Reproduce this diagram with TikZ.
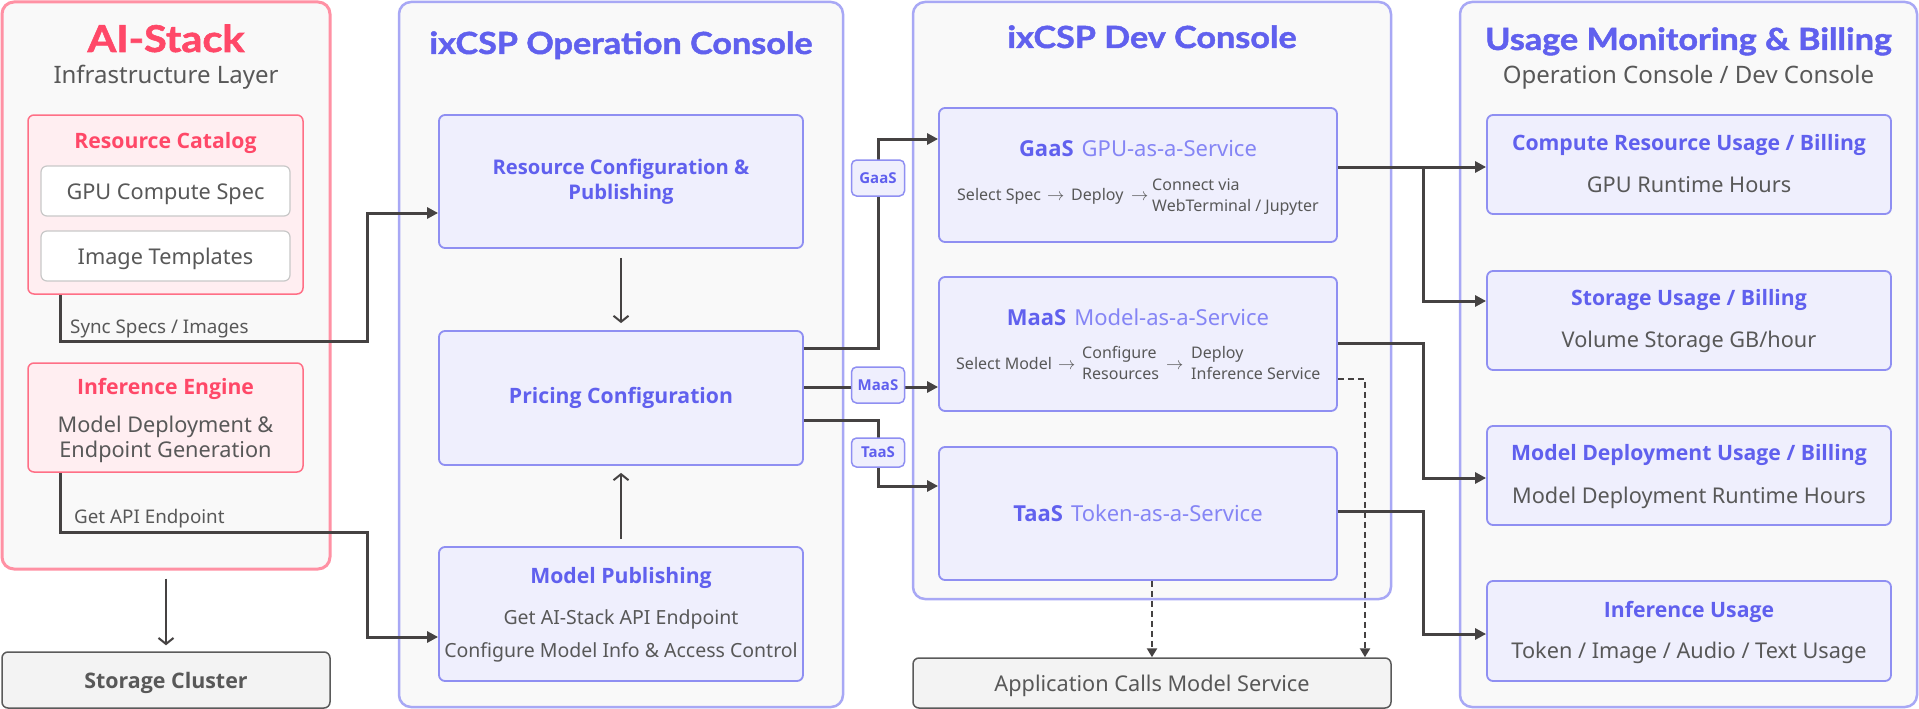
\documentclass[tikz,border=0pt]{standalone}
\usepackage{fontspec}
\setmainfont{Noto Sans}
\newfontfamily\bff{Open Sans}
\newfontfamily\tfont{Lato}[FakeStretch=1.12, BoldFeatures={FakeBold=1.5}]
\usetikzlibrary{arrows.meta}
\definecolor{pinkT}{HTML}{FF4868}
\definecolor{pinkBd}{HTML}{FF91A4}
\definecolor{pinkIn}{HTML}{FF6F86}
\definecolor{pinkFill}{HTML}{FFEEF1}
\definecolor{purT}{HTML}{6060EE}
\definecolor{purL}{HTML}{8585F5}
\definecolor{boxFill}{HTML}{EFEFFD}
\definecolor{boxBd}{HTML}{8F8FF2}
\definecolor{contBd}{HTML}{A8A8F5}
\definecolor{contFill}{HTML}{F9F9F9}
\definecolor{grayT}{HTML}{585858}
\definecolor{lineC}{HTML}{454242}
\definecolor{clusterFill}{HTML}{F3F3F3}
\definecolor{clusterBd}{HTML}{5A5A5A}
\definecolor{specBd}{HTML}{C8C8C8}
\newcommand\fsz[2]{\fontsize{#1}{#2}\selectfont}
\newcommand\sbf{\bff\bfseries}
\begin{document}
\begin{tikzpicture}[x=1pt,y=-1pt,
  cont/.style={draw=contBd, fill=contFill, line width=2.5pt, rounded corners=12pt, inner sep=0pt},
  pinkcont/.style={draw=pinkBd, fill=contFill, line width=3pt, rounded corners=12pt, inner sep=0pt},
  pinkbox/.style={draw=pinkIn, fill=pinkFill, line width=1.5pt, rounded corners=6pt, inner sep=0pt},
  specbox/.style={draw=specBd, fill=white, line width=1.2pt, rounded corners=6pt, inner sep=0pt},
  pbox/.style={draw=boxBd, fill=boxFill, line width=1.8pt, rounded corners=6pt, inner sep=0pt},
  gbox/.style={draw=clusterBd, fill=clusterFill, line width=1.5pt, rounded corners=6pt, inner sep=0pt},
  pill/.style={draw=boxBd, fill=boxFill, line width=1.5pt, rounded corners=5pt, inner sep=0pt, minimum width=53pt, text=purT, font=\fsz{15}{18}\sbf},
  txt/.style={anchor=base, inner sep=0pt},
  ttl/.style={txt, text=purT, font=\tfont\fsz{30.5}{36}\bfseries},
  btitle/.style={txt, text=purT, font=\fsz{21.2}{25}\sbf},
  body/.style={txt, text=grayT, font=\fsz{21.7}{26}},
  small/.style={txt, anchor=base west, text=grayT, font=\fsz{16}{19}},
  conn/.style={draw=lineC, line width=3pt, -{Triangle[length=11pt,width=11pt]}},
  thinarr/.style={draw=lineC, line width=2pt, -{Straight Barb[length=6pt,width=15pt,line width=2pt]}},
  dasharr/.style={draw=lineC, line width=2.5pt, dash pattern=on 6pt off 4pt, -{Triangle[length=9pt,width=10pt]}}
]
\useasboundingbox (0,0) rectangle (1919,709);
\fill[white] (0,0) rectangle (1919,709);

% ---------- containers ----------
\node[pinkcont, minimum width=328pt, minimum height=567pt] (aistack) at (166,285.5) {};
\node[cont, minimum width=444pt, minimum height=705pt] (opc) at (621,354.5) {};
\node[cont, minimum width=478pt, minimum height=597pt] (devc) at (1152,300.5) {};
\node[cont, minimum width=457pt, minimum height=705pt] (usage) at (1688.5,354.5) {};

% ---------- AI-Stack ----------
\node[txt, text=pinkT, font=\tfont\fsz{37}{42}\bfseries] (tai) at (166,52) {AI-Stack};
\node[txt, text=grayT, font=\fsz{24}{28}] (tinfra) at (166,84) {Infrastructure Layer};
\node[pinkbox, minimum width=275pt, minimum height=179pt] (rc) at (165.5,204.5) {};
\node[txt, text=pinkT, font=\fsz{21.2}{25}\sbf] (trc) at (165.5,148) {Resource Catalog};
\node[specbox, minimum width=249pt, minimum height=50pt] (gpu) at (165.5,191) {};
\node[body] (tgpu) at (165.5,199) {GPU Compute Spec};
\node[specbox, minimum width=249pt, minimum height=50pt] (img) at (165.5,256) {};
\node[body] (timg) at (165.5,264) {Image Templates};
\node[pinkbox, minimum width=275pt, minimum height=109pt] (ie) at (165.5,417.5) {};
\node[txt, text=pinkT, font=\fsz{21.2}{25}\sbf] (tie) at (165.5,394) {Inference Engine};
\node[body] (tie1) at (165.5,432) {Model Deployment \&};
\node[body] (tie2) at (165.5,457) {Endpoint Generation};
\node[gbox, minimum width=328pt, minimum height=56pt] (sc) at (166,680) {};
\node[txt, text=grayT, font=\fsz{21.4}{25}\sbf] (tsc) at (166,688) {Storage Cluster};

% ---------- Operation Console ----------
\node[ttl] (top) at (621,54) {ixCSP Operation Console};
\node[pbox, minimum width=364pt, minimum height=133pt] (rescfg) at (621,181.5) {};
\node[txt, text=purT, font=\fsz{20.2}{24}\sbf] (trescfg1) at (621,174) {Resource Configuration \&};
\node[txt, text=purT, font=\fsz{20.2}{24}\sbf] (trescfg2) at (621,199) {Publishing};
\node[pbox, minimum width=364pt, minimum height=134pt] (pricing) at (621,398) {};
\node[btitle] (tpricing) at (621,403) {Pricing Configuration};
\node[pbox, minimum width=364pt, minimum height=134pt] (mp) at (621,614) {};
\node[btitle] (tmp) at (621,583) {Model Publishing};
\node[txt, text=grayT, font=\fsz{19.5}{23}] (tmp1) at (621,624) {Get AI-Stack API Endpoint};
\node[txt, text=grayT, font=\fsz{19.5}{23}] (tmp2) at (621,657) {Configure Model Info \& Access Control};

% ---------- Dev Console ----------
\node[ttl] (tdev) at (1152,48) {ixCSP Dev Console};
\node[pbox, minimum width=398pt, minimum height=134pt] (gaas) at (1138,175) {};
\node[txt, font=\fsz{22}{26}] (tgaas) at (1138,156) {\textcolor{purT}{\sbf GaaS}\hspace{8pt}\textcolor{purL}{GPU-as-a-Service}};
\node[small] (tgaas1) at (957,200) {Select Spec};
\node[small] (tgaas1a) at (1047,200) {$\rightarrow$};
\node[small] (tgaas1b) at (1071,200) {Deploy};
\node[small] (tgaas1c) at (1131,200) {$\rightarrow$};
\node[small] (tgaas2) at (1152,190) {Connect via};
\node[small] (tgaas3) at (1152,211) {WebTerminal / Jupyter};
\node[pbox, minimum width=398pt, minimum height=134pt] (maas) at (1138,344) {};
\node[txt, font=\fsz{22}{26}] (tmaas) at (1138,325) {\textcolor{purT}{\sbf MaaS}\hspace{8pt}\textcolor{purL}{Model-as-a-Service}};
\node[small] (tmaas1) at (956,369) {Select Model};
\node[small] (tmaas1a) at (1058,369) {$\rightarrow$};
\node[small] (tmaas2) at (1082,358) {Configure};
\node[small] (tmaas3) at (1082,379) {Resources};
\node[small] (tmaas4) at (1166,369) {$\rightarrow$};
\node[small] (tmaas5) at (1191,358) {Deploy};
\node[small] (tmaas6) at (1191,379) {Inference Service};
\node[pbox, minimum width=398pt, minimum height=133pt] (taas) at (1138,513.5) {};
\node[txt, font=\fsz{22}{26}] (ttaas) at (1138,521) {\textcolor{purT}{\sbf TaaS}\hspace{8pt}\textcolor{purL}{Token-as-a-Service}};
\node[gbox, minimum width=478pt, minimum height=50pt] (app) at (1152,683) {};
\node[body] (tapp) at (1152,691) {Application Calls Model Service};

% ---------- Usage ----------
\node[ttl] (tusage) at (1688.5,50) {Usage Monitoring \& Billing};
\node[txt, text=grayT, font=\fsz{24}{28}] (tusage2) at (1688.5,84) {Operation Console / Dev Console};
\node[pbox, minimum width=404pt, minimum height=99pt] (compute) at (1689,164.5) {};
\node[btitle] (tcompute) at (1689,150) {Compute Resource Usage / Billing};
\node[body] (tcompute2) at (1689,192) {GPU Runtime Hours};
\node[pbox, minimum width=404pt, minimum height=99pt] (storu) at (1689,320.5) {};
\node[btitle] (tstoru) at (1689,305) {Storage Usage / Billing};
\node[body] (tstoru2) at (1689,347) {Volume Storage GB/hour};
\node[pbox, minimum width=404pt, minimum height=99pt] (mdep) at (1689,475.5) {};
\node[btitle] (tmdep) at (1689,460) {Model Deployment Usage / Billing};
\node[body] (tmdep2) at (1689,503) {Model Deployment Runtime Hours};
\node[pbox, minimum width=404pt, minimum height=100pt] (infu) at (1689,631) {};
\node[btitle] (tinfu) at (1689,617) {Inference Usage};
\node[body] (tinfu2) at (1689,658) {Token / Image / Audio / Text Usage};

% ---------- connectors ----------
\coordinate (s1) at (60,341);
\coordinate (s2) at (367,341);
\coordinate (s3) at (367,213);
\draw[conn] (rc.south -| s1) -- (s1) -- (s2) -- (s3) -- (rescfg.west |- s3);
\node[txt, anchor=base west, text=grayT, font=\fsz{18.8}{22}] (tsync) at (70,333) {Sync Specs / Images};

\coordinate (a1) at (60,532);
\coordinate (a2) at (367,532);
\coordinate (a3) at (367,637);
\draw[conn] (ie.south -| a1) -- (a1) -- (a2) -- (a3) -- (mp.west |- a3);
\node[txt, anchor=base west, text=grayT, font=\fsz{18.8}{22}] (tapi) at (74,523) {Get API Endpoint};

\draw[thinarr] ([yshift=-8pt]aistack.south) -- ([yshift=6pt]sc.north);
\draw[thinarr] ([yshift=-9pt]rescfg.south) -- ([yshift=7pt]pricing.north);
\draw[thinarr] ([yshift=7pt]mp.north) -- ([yshift=-7pt]pricing.south);

\coordinate (g1) at (878,348);
\coordinate (g2) at (878,139);
\draw[conn] (pricing.east |- g1) -- (g1) -- (g2) -- (gaas.west |- g2);
\coordinate (m1) at (878,387);
\draw[conn] (pricing.east |- m1) -- (maas.west |- m1);
\coordinate (k1) at (878,420);
\coordinate (k2) at (878,486);
\draw[conn] (pricing.east |- k1) -- (k1) -- (k2) -- (taas.west |- k2);
\node[pill, minimum height=36pt] (pg) at (878,178) {GaaS};
\node[pill, minimum height=36pt] (pm) at (878,385) {MaaS};
\node[pill, minimum height=29pt] (pt) at (878,452.5) {TaaS};

\coordinate (r1) at (1423,167);
\coordinate (r2) at (1423,301);
\draw[conn] (gaas.east |- r1) -- (r1) -- (compute.west |- r1);
\draw[conn] (r1) -- (r2) -- (storu.west |- r2);
\coordinate (r3) at (1423,343);
\coordinate (r4) at (1423,478);
\draw[conn] (maas.east |- r3) -- (r3) -- (r4) -- (mdep.west |- r4);
\coordinate (r5) at (1423,511);
\coordinate (r6) at (1423,634);
\draw[conn] (taas.east |- r5) -- (r5) -- (r6) -- (infu.west |- r6);

\coordinate (d1) at (1365,379);
\draw[dasharr] (taas.south -| app.north) -- (app.north);
\draw[dasharr] (maas.east |- d1) -- (d1) -- (app.north -| d1);
\end{tikzpicture}
\end{document}
